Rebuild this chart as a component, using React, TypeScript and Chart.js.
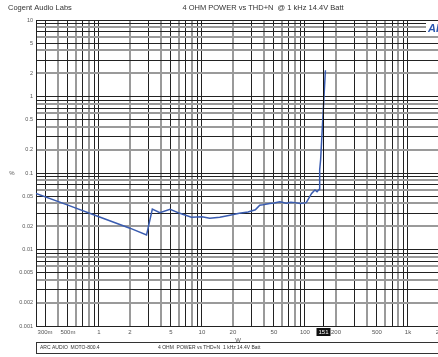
import React, { useEffect, useRef } from "react";
import { Chart, registerables } from "chart.js";

Chart.register(...registerables);

const powerW = [0.245, 0.5, 1, 2, 2.9, 3.3, 3.9, 4.9, 6.1, 7.9, 10, 11.9, 14.9, 18.7, 23, 28, 33, 36.4, 39, 45.6, 50, 57, 66, 73, 80, 90, 103, 116, 125, 131, 137, 139, 142, 150, 158];
const thdPct = [0.054, 0.038, 0.0268, 0.019, 0.0155, 0.0338, 0.0303, 0.0335, 0.0297, 0.0264, 0.0267, 0.0256, 0.0264, 0.028, 0.0297, 0.031, 0.033, 0.038, 0.0385, 0.04, 0.0405, 0.042, 0.0402, 0.0415, 0.041, 0.04, 0.041, 0.054, 0.06, 0.057, 0.061, 0.11, 0.15, 0.6, 2.2];

const xTickLabels: Record<string, string> = {
  "0.3": "300m", "0.5": "500m", "1": "1", "2": "2", "5": "5", "10": "10", "20": "20",
  "50": "50", "100": "100", "200": "200", "500": "500", "1000": "1k", "2000": "2k",
};
const yTickLabels: Record<string, string> = {
  "10": "10", "5": "5", "2": "2", "1": "1", "0.5": "0.5", "0.2": "0.2", "0.1": "0.1",
  "0.05": "0.05", "0.02": "0.02", "0.01": "0.01", "0.005": "0.005", "0.002": "0.002", "0.001": "0.001",
};

const titleLeft = "Cogent Audio Labs";
const titleMain = "4 OHM POWER vs THD+N  @ 1 kHz 14.4V Batt";
const xTitle = "W";
const yTitle = "%";
const footerParts = ["ARC AUDIO  MOTO-800.4", "4 OHM  POWER vs THD+N", "1 kHz", "14.4V Batt"];
const cursorW = 151;
const cursorLabel = "151";

const X_MIN = 0.245;
const X_MAX = 2340;
const Y_MIN = 0.001;
const Y_MAX = 10;
const FONT = "'Liberation Sans', Arial, sans-serif";

function logTicks(min: number, max: number) {
  const out: { value: number }[] = [];
  for (let e = -4; e <= 4; e++) {
    for (let m = 1; m <= 9; m++) {
      const v = Number((m * Math.pow(10, e)).toPrecision(3));
      if (v >= min - 1e-12 && v <= max + 1e-12) out.push({ value: v });
    }
  }
  return out;
}
function mantissa(v: number) {
  const e = Math.floor(Math.log10(v) + 1e-9);
  return Math.round(v / Math.pow(10, e));
}
const gridColor = (ctx: any) => {
  const v = ctx.tick ? ctx.tick.value : 1;
  return mantissa(v) % 2 === 0 ? "#9a9a9a" : "#222222";
};
const gridWidth = (ctx: any) => {
  const v = ctx.tick ? ctx.tick.value : 1;
  return mantissa(v) % 2 === 0 ? 2 : 1;
};

const decor = {
  id: "decor",
  afterDraw(chart: any) {
    const c = chart.ctx;
    const area = chart.chartArea;
    const xs = chart.scales.x;
    c.save();
    // cursor
    const cx = Math.round(xs.getPixelForValue(cursorW)) + 0.5;
    c.strokeStyle = "#111";
    c.lineWidth = 1;
    c.beginPath();
    c.moveTo(cx, area.top);
    c.lineTo(cx, area.bottom);
    c.stroke();
    c.fillStyle = "#111";
    c.fillRect(cx - 7, 328, 14, 8);
    c.fillStyle = "#fff";
    c.font = `6px ${FONT}`;
    c.textAlign = "center";
    c.textBaseline = "middle";
    c.fillText(cursorLabel, cx, 332.5);
    // titles
    c.fillStyle = "#333";
    c.font = `7.5px ${FONT}`;
    c.textAlign = "left";
    c.textBaseline = "middle";
    c.fillText(titleLeft, 8, 8);
    c.textAlign = "center";
    c.fillText(titleMain, 263, 8);
    // axis titles
    c.font = `6px ${FONT}`;
    c.fillStyle = "#555";
    c.fillText(yTitle, 12, 173);
    c.fillText(xTitle, 238, 340);
    // footer box
    c.strokeStyle = "#333";
    c.lineWidth = 1;
    c.strokeRect(36.5, 342.5, 420, 11);
    c.font = `5px ${FONT}`;
    c.fillStyle = "#333";
    c.textAlign = "left";
    const fx = [40, 158, 223, 237];
    footerParts.forEach((t, i) => c.fillText(t, fx[i], 348));
    // AP logo
    c.fillStyle = "#fff";
    c.fillRect(426, 23, 20, 11);
    c.fillStyle = "#2a56b0";
    c.font = `italic bold 11px ${FONT}`;
    c.textAlign = "left";
    c.fillText("AP", 428, 29);
    c.restore();
  },
};

export default function App() {
  const ref = useRef<HTMLCanvasElement>(null);
  useEffect(() => {
    if (!ref.current) return;
    const chart = new Chart(ref.current, {
      type: "line",
      data: {
        datasets: [
          {
            data: powerW.map((x, i) => ({ x, y: thdPct[i] })),
            borderColor: "#3a5cb0",
            borderWidth: 1.5,
            pointRadius: 0,
            tension: 0,
          },
        ],
      },
      options: {
        animation: false,
        responsive: false,
        devicePixelRatio: 1,
        layout: { padding: { top: 20, right: 0, bottom: 0, left: 0 } },
        plugins: { legend: { display: false }, tooltip: { enabled: false }, title: { display: false } },
        scales: {
          x: {
            type: "logarithmic",
            min: X_MIN,
            max: X_MAX,
            afterBuildTicks: (s: any) => { s.ticks = logTicks(X_MIN, X_MAX); },
            afterFit: (s: any) => { s.height = 31; },
            ticks: {
              autoSkip: false,
              maxRotation: 0,
              padding: 3,
              color: "#555",
              font: { family: FONT, size: 6 },
              callback: (v: any) => xTickLabels[String(Number(Number(v).toPrecision(3)))] ?? "",
            },
            grid: { color: gridColor, lineWidth: gridWidth, drawTicks: false },
            border: { display: true, color: "#222", width: 1 },
          },
          y: {
            type: "logarithmic",
            min: Y_MIN,
            max: Y_MAX,
            afterBuildTicks: (s: any) => { s.ticks = logTicks(Y_MIN, Y_MAX); },
            afterFit: (s: any) => { s.width = 36; },
            ticks: {
              autoSkip: false,
              padding: 3,
              color: "#555",
              font: { family: FONT, size: 5.5 },
              callback: (v: any) => yTickLabels[String(Number(Number(v).toPrecision(3)))] ?? "",
            },
            grid: { color: gridColor, lineWidth: gridWidth, drawTicks: false },
            border: { display: true, color: "#222", width: 1 },
          },
        },
      },
      plugins: [decor],
    } as any);
    return () => chart.destroy();
  }, []);
  return (
    <div style={{ position: "absolute", left: 0, top: 0, width: 438, height: 357, overflow: "hidden", background: "#fff" }}>
      <canvas ref={ref} width={446} height={357} style={{ display: "block", width: 446, height: 357 }} />
    </div>
  );
}
